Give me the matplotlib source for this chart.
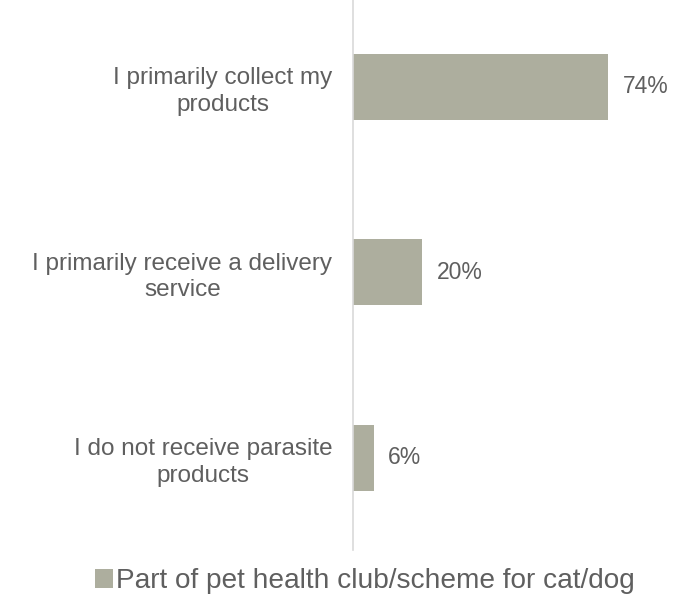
import matplotlib
matplotlib.use("Agg")
import matplotlib.pyplot as plt
from matplotlib.patches import Patch

plt.rcParams['font.family'] = ['Liberation Sans', 'DejaVu Sans']

categories = [
    "I primarily collect my\nproducts",
    "I primarily receive a delivery\nservice",
    "I do not receive parasite\nproducts",
]
values = [74, 20, 6]
series_name = "Part of pet health club/scheme for cat/dog"

bar_color = "#ADAE9E"
text_color = "#5F5F5F"

fig = plt.figure(figsize=(6.91, 5.97), dpi=100)
ax = fig.add_axes([0.511, 0.079, 0.479, 0.921])

y = range(len(categories))
bars = ax.barh(list(y), values, height=0.356, color=bar_color)

ax.set_xlim(0, 96)
ax.set_ylim(2.496, -0.469)

for spine in ["top", "right", "bottom"]:
    ax.spines[spine].set_visible(False)
ax.spines["left"].set_color("#D9D9D9")
ax.spines["left"].set_linewidth(1.2)
ax.set_xticks([])
ax.set_yticks(list(y))
ax.set_yticklabels(categories, fontsize=17.5, color=text_color,
                   multialignment="center", linespacing=1.25)
ax.tick_params(axis="y", length=0, pad=15)

# value labels at the end of each bar
for b, v in zip(bars, values):
    ax.annotate(f"{v}%", (b.get_width(), b.get_y() + b.get_height() / 2),
                xytext=(10.5, 0), textcoords="offset points", va="center",
                ha="left", fontsize=16.5, color=text_color)

handle = Patch(facecolor=bar_color, edgecolor="none")
fig.legend([handle], [series_name], loc="center", bbox_to_anchor=(0.528, 0.026),
           frameon=False, fontsize=20.2, handlelength=0.65, handleheight=0.65,
           handletextpad=0.1, labelcolor=text_color)

fig.savefig("out.png", dpi=100, facecolor="white")
